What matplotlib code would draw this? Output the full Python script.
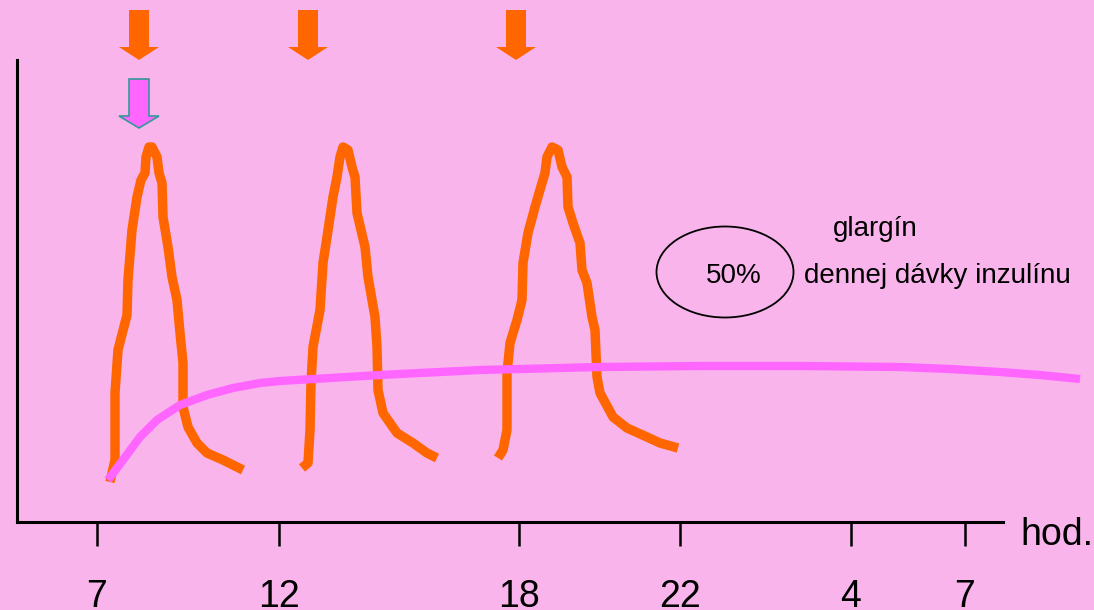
import matplotlib.pyplot as plt
import numpy as np
from matplotlib.patches import Ellipse

plt.rcParams['font.family'] = ['Liberation Sans', 'DejaVu Sans']

# hour ticks (positions along time axis) and their labels
tick_pos = [97, 279, 519, 680, 851, 965]
tick_labels = ['7', '12', '18', '22', '4', '7']

# prandial insulin peaks (time position, level)
peak1_x = [110, 115, 115, 118, 127, 128, 132, 137, 141, 145, 146, 149, 152, 157, 159, 162, 163, 168,
           172, 177, 180, 183, 183, 188, 197, 207, 223, 243]
peak1_y = [40, 62, 129, 172, 207, 242, 292, 325, 342, 349, 365, 375, 375, 365, 349, 339, 305, 275,
           245, 222, 189, 159, 115, 95, 79, 69, 62, 52]
peak2_x = [302, 308, 310, 311, 313, 320, 323, 327, 333, 337, 340, 343, 348, 352, 355, 357, 365, 368,
           375, 377, 378, 383, 397, 413, 427, 437]
peak2_y = [54, 59, 92, 139, 175, 212, 259, 285, 325, 345, 365, 375, 372, 355, 345, 309, 275, 245,
           205, 175, 132, 109, 89, 79, 69, 64]
peak3_x = [498, 503, 507, 507, 510, 517, 522, 523, 528, 535, 542, 545, 547, 552, 558, 562, 567, 568,
           573, 580, 582, 587, 592, 595, 597, 600, 613, 627, 647, 660, 678]
peak3_y = [64, 72, 92, 149, 179, 202, 222, 259, 289, 315, 339, 349, 365, 375, 372, 355, 345, 315,
           299, 279, 252, 239, 205, 192, 145, 129, 105, 94, 85, 79, 74]

# glargine basal curve
glar_x = [108, 123, 140, 157, 180, 207, 233, 260, 280, 330, 380, 460, 480, 600, 700, 800, 900, 950,
          1000, 1040, 1080]
glar_y = [42, 62, 85, 102, 117, 127, 134, 139, 141, 144, 147, 151, 152, 155, 156, 156, 155, 153,
          150, 147, 143]

# injection times (arrows)
inject_x = [139, 308, 516]

bg = '#F9B4EC'
orange = '#FF6600'
magenta = '#FF66FF'

fig = plt.figure(figsize=(10.94, 6.10), dpi=100)
fig.patch.set_facecolor(bg)
ax = fig.add_axes([17 / 1094, 88 / 610, 986 / 1094, 462 / 610])
ax.set_facecolor(bg)
ax.set_xlim(17, 1003)
ax.set_ylim(0, 462)

for s in ['top', 'right']:
    ax.spines[s].set_visible(False)
ax.spines['left'].set_linewidth(2.2)
ax.spines['bottom'].set_linewidth(2.2)
ax.set_yticks([])
ax.set_xticks(tick_pos)
ax.set_xticklabels(tick_labels, fontsize=27)
ax.tick_params(axis='x', direction='out', length=17, width=1.8, pad=24)

# curves
for px, py in [(peak1_x, peak1_y), (peak2_x, peak2_y), (peak3_x, peak3_y)]:
    ax.plot(px, py, color=orange, lw=6.8, solid_joinstyle='round', solid_capstyle='butt',
            clip_on=False, zorder=3)
ax.plot(glar_x, glar_y, color=magenta, lw=6, solid_joinstyle='round', solid_capstyle='butt',
        clip_on=False, zorder=4)

# arrows above
for x in inject_x:
    ax.arrow(x, 512, 0, -50, width=20, head_width=40, head_length=13,
             length_includes_head=True, color=orange, lw=0, clip_on=False)
ax.arrow(inject_x[0], 443, 0, -49, width=20, head_width=40, head_length=12,
         length_includes_head=True, facecolor=magenta, edgecolor='#339999', lw=1.2, clip_on=False)

# annotation
ax.add_patch(Ellipse((725, 250), 137, 91, fill=False, edgecolor='black', lw=1.3))
ax.text(734, 246, '50%', fontsize=20, ha='center', va='center')
ax.text(875, 293, 'glargín', fontsize=20, ha='center', va='center')
ax.text(937, 246, 'dennej dávky inzulínu', fontsize=20, ha='center', va='center')
ax.text(1020, -13, 'hod.', fontsize=27, ha='left', va='center', clip_on=False)

fig.savefig('out.png', dpi=100, facecolor=bg)
